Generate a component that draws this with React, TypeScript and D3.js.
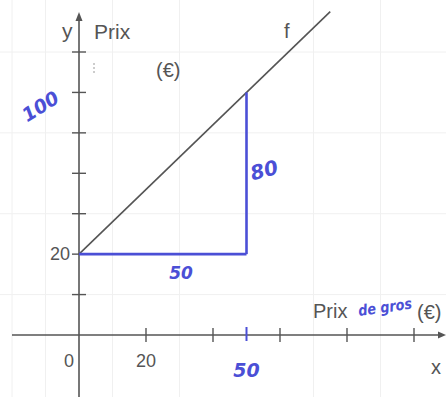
import React from "react";
import * as d3 from "d3";

const W = 446;
const H = 397;

// axis ticks (data units)
const xTicks = [20, 40, 60, 80, 100];
const yTicks = [10, 20, 30, 40, 50, 60, 70];
const xTickLabels = ["0", "20"];
const xTickLabelValues = [0, 20];
const yTickLabels = ["20"];
const yTickLabelValues = [20];

// straight line f through two points
const fX = [0, 75];
const fY = [20, 80];

// slope triangle: run and rise
const runX = [0, 50];
const runY = [20, 20];
const riseX = [50, 50];
const riseY = [20, 60];
const markedX = [50];

// background grid
const gridX = [-20, -10, 10, 30, 70, 90, 110];
const gridY = [10, 30, 50, 70];

const ink = "#555";
const pen = "#4b4fd6";
const font = "'Liberation Sans', Arial, sans-serif";
const hand = "'DejaVu Sans', sans-serif";

export default function App() {
  const x = d3.scaleLinear().domain([0, 100]).range([79, 414]);
  const y = d3.scaleLinear().domain([0, 70]).range([335, 52]);
  const line = d3
    .line<[number, number]>()
    .x((d) => x(d[0]))
    .y((d) => y(d[1]));

  const fPts: [number, number][] = fX.map((v, i) => [v, fY[i]]);
  const runPts: [number, number][] = runX.map((v, i) => [v, runY[i]]);
  const risePts: [number, number][] = riseX.map((v, i) => [v, riseY[i]]);

  const x0 = x(0);
  const y0 = y(0);

  return (
    <svg
      width={W}
      height={H}
      style={{ position: "absolute", left: 0, top: 0, background: "#fff" }}
    >
      {/* faint paper grid */}
      <g stroke="#f0f0f0" strokeWidth={1}>
        {gridX.map((v) => (
          <line key={"gx" + v} x1={x(v)} x2={x(v)} y1={0} y2={H} />
        ))}
        {gridY.map((v) => (
          <line key={"gy" + v} x1={0} x2={W} y1={y(v)} y2={y(v)} />
        ))}
      </g>

      {/* axes */}
      <g stroke={ink} strokeWidth={1.6} fill="none">
        <line x1={12} x2={441} y1={y0} y2={y0} />
        <line x1={x0} x2={x0} y1={H} y2={18} />
      </g>
      <path d={`M${W} ${y0} L438 ${y0 - 3.5} L438 ${y0 + 3.5} Z`} fill={ink} />
      <path d={`M${x0} 12 L${x0 - 3.5} 21 L${x0 + 3.5} 21 Z`} fill={ink} />

      {/* ticks */}
      <g stroke={ink} strokeWidth={1.4}>
        {xTicks.map((v) => (
          <line key={"xt" + v} x1={x(v)} x2={x(v)} y1={y0 - 7} y2={y0 + 7} />
        ))}
        {yTicks.map((v) => (
          <line key={"yt" + v} x1={x0 - 7} x2={x0 + 7} y1={y(v)} y2={y(v)} />
        ))}
      </g>
      <g stroke={pen} strokeWidth={2}>
        {markedX.map((v) => (
          <line key={"mx" + v} x1={x(v)} x2={x(v)} y1={y0 - 8} y2={y0 + 6} />
        ))}
      </g>
      <line x1={94} x2={94} y1={63} y2={74} stroke="#9a9a9a" strokeWidth={1} strokeDasharray="2 2" />

      {/* tick labels */}
      <g fill={ink} fontFamily={font} fontSize={18}>
        {xTickLabelValues.map((v, i) => (
          <text
            key={"xl" + v}
            x={v === 0 ? x(v) - 5 : x(v)}
            y={y0 + 32}
            textAnchor={v === 0 ? "end" : "middle"}
          >
            {xTickLabels[i]}
          </text>
        ))}
        {yTickLabelValues.map((v, i) => (
          <text key={"yl" + v} x={x0 - 9} y={y(v) + 6} textAnchor="end">
            {yTickLabels[i]}
          </text>
        ))}
      </g>

      {/* axis titles */}
      <g fill={ink} fontFamily={font}>
        <text x={62} y={38} fontSize={21}>y</text>
        <text x={94} y={39} fontSize={21}>Prix</text>
        <text x={156} y={77} fontSize={20}>(€)</text>
        <text x={284} y={38} fontSize={20}>f</text>
        <text x={313} y={318} fontSize={20}>Prix</text>
        <text x={417} y={319} fontSize={20}>(€)</text>
        <text x={431} y={374} fontSize={20}>x</text>
      </g>

      {/* line f */}
      <path d={line(fPts) ?? ""} fill="none" stroke="#555" strokeWidth={1.6} />

      {/* slope triangle */}
      <path d={line(runPts) ?? ""} fill="none" stroke={pen} strokeWidth={2.6} />
      <path d={line(risePts) ?? ""} fill="none" stroke={pen} strokeWidth={2.6} />

      {/* pen notes */}
      <g fill={pen} fontFamily={hand} fontStyle="italic" fontWeight="bold">
        <text x={0} y={0} fontSize={19} transform={`translate(44,112) rotate(-32)`} textAnchor="middle">
          100
        </text>
        <text x={0} y={0} fontSize={20} transform={`translate(266,177) rotate(-15)`} textAnchor="middle">
          80
        </text>
        <text x={181} y={279} fontSize={17} textAnchor="middle">
          50
        </text>
        <text x={x(50)} y={377} fontSize={19} textAnchor="middle">
          50
        </text>
        <text
          x={0}
          y={0}
          fontSize={15}
          textLength={54}
          lengthAdjust="spacingAndGlyphs"
          transform={`translate(359,316) rotate(-8)`}
        >
          de gros
        </text>
      </g>
    </svg>
  );
}
